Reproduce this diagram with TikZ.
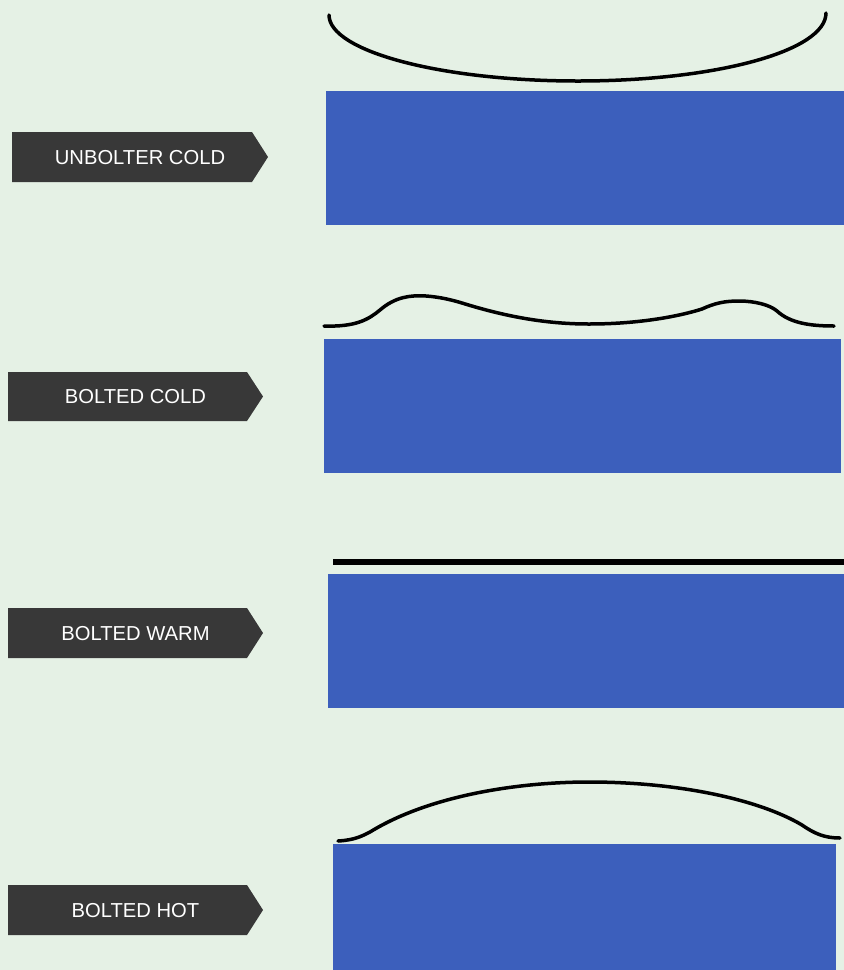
\documentclass[tikz,border=0pt]{standalone}
\usepackage{fontspec}
\setmainfont{Liberation Sans}
\definecolor{bg}{HTML}{E5F1E5}
\definecolor{plate}{HTML}{3C5FBC}
\definecolor{tag}{HTML}{383838}
\begin{document}
\begin{tikzpicture}[x=1pt,y=-1pt,
  tagtext/.style={text=white,font=\fontsize{20.2}{22}\selectfont,inner sep=0pt},
  tagbox/.style={fill=tag},
  platebox/.style={fill=plate},
  flange/.style={draw=black,line width=3.5pt,line cap=round}]
\fill[bg] (0,0) rectangle (844,970);
\useasboundingbox (0,0) rectangle (844,970);
% labels
\fill[tagbox] (12,132) -- (252,132) -- (268,157) -- (252,182) -- (12,182) -- cycle;
\node[tagtext] (t1) at (140,157.5) {UNBOLTER COLD};
\fill[tagbox] (8,372) -- (247,372) -- (263,396.5) -- (247,421) -- (8,421) -- cycle;
\node[tagtext] (t2) at (135.5,397) {BOLTED COLD};
\fill[tagbox] (8,608) -- (247,608) -- (263,633) -- (247,658) -- (8,658) -- cycle;
\node[tagtext] (t3) at (135.5,634) {BOLTED WARM};
\fill[tagbox] (8,885) -- (247,885) -- (263,910) -- (247,935) -- (8,935) -- cycle;
\node[tagtext] (t4) at (135.5,911) {BOLTED HOT};
% plates
\fill[platebox] (326,91) rectangle (844,225);
\fill[platebox] (324,339) rectangle (841,473);
\fill[platebox] (328,574) rectangle (844,708);
\fill[platebox] (333,844) rectangle (836,970);
% flanges
\draw[flange] (329,15) .. controls (329,51) and (440,81) .. (578,81)
  .. controls (716,81) and (826,51) .. (826,13);
\draw[flange] (324,326) .. controls (355,327) and (368,320) .. (380,310)
  .. controls (395,297) and (410,295) .. (426,296)
  .. controls (440,297) and (452,300) .. (462,303)
  .. controls (510,318) and (550,324) .. (589,324)
  .. controls (640,324) and (680,316) .. (702,309)
  .. controls (715,303) and (725,301) .. (739,301)
  .. controls (755,301) and (770,305) .. (777,311)
  .. controls (790,323) and (810,326) .. (834,326);
\draw[draw=black,line width=6pt] (333,562) -- (844,562);
\draw[flange] (338,841) .. controls (355,840) and (362,836) .. (370,832)
  .. controls (430,795) and (520,782) .. (589,782)
  .. controls (680,782) and (760,800) .. (802,825)
  .. controls (815,834) and (825,838) .. (840,838);
\end{tikzpicture}
\end{document}
